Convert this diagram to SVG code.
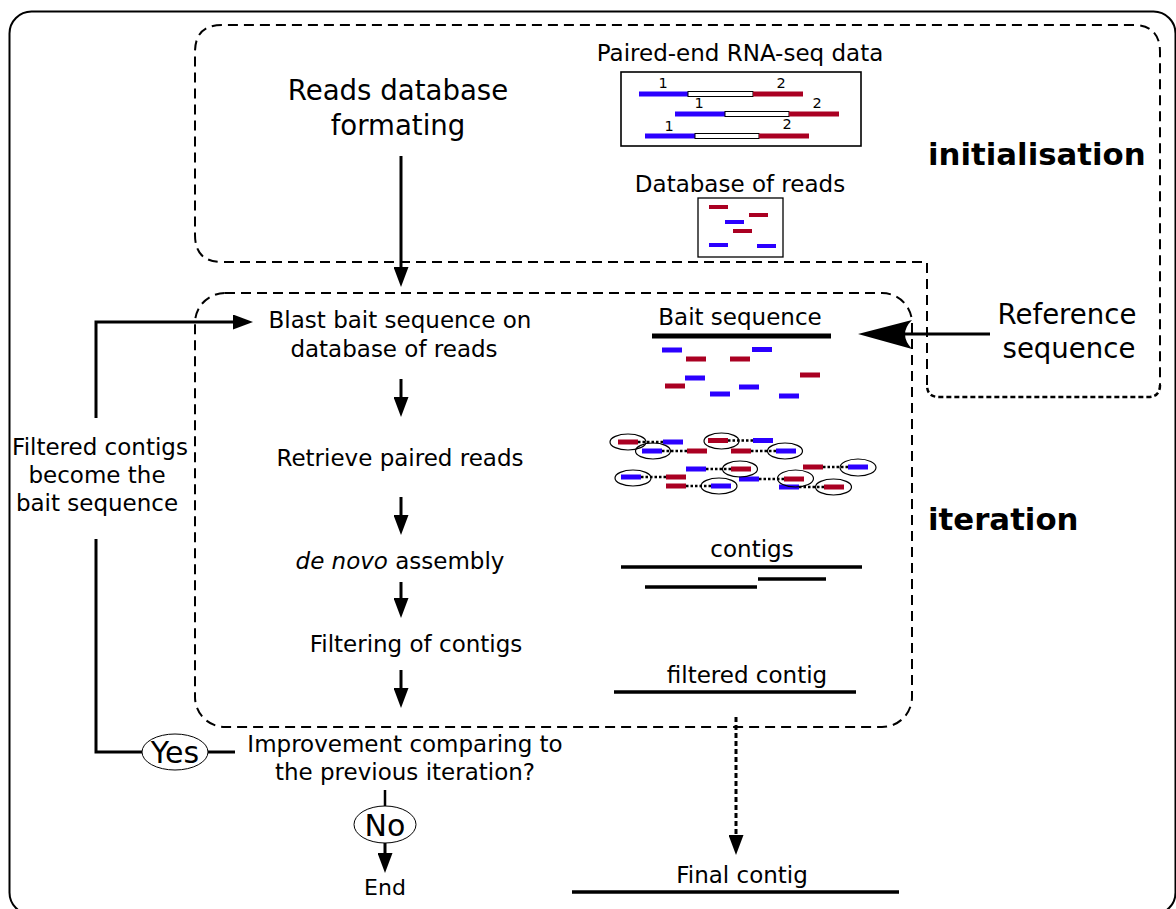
<svg xmlns="http://www.w3.org/2000/svg" width="1176" height="909" viewBox="0 0 1176 909">
<style>
text{font-family:"DejaVu Sans","Liberation Sans",sans-serif;fill:#000}
.t23{font-size:23px}
.t27{font-size:27.6px}
.b30{font-size:30.8px;font-weight:bold}
.dash{fill:none;stroke:#000;stroke-width:2;stroke-dasharray:10 6}
.dot{fill:none;stroke:#000;stroke-width:2.5;stroke-dasharray:5 3}
.ln{fill:none;stroke:#000;stroke-width:3}
.ctg{stroke:#000;stroke-width:3.5}
.bl{fill:#2b00ff}
.rd{fill:#aa0022}
.el{fill:none;stroke:#000;stroke-width:1.2}
.pd{stroke:#000;stroke-width:2.5;stroke-dasharray:2.5 2}
</style>
<defs>
<marker id="ah" markerUnits="userSpaceOnUse" viewBox="0 0 20 15" markerWidth="20" markerHeight="15" refX="8" refY="7.5" orient="auto">
<path d="M0,0 L20,7.5 L0,15 z" fill="#000"/>
</marker>
<rect id="r" width="20" height="5"/>
</defs>
<rect x="9.5" y="11.5" width="1166" height="903" rx="22" fill="none" stroke="#000" stroke-width="2"/>
<g id="initialisation">
<path class="dash" d="M927,385 L927,262 L222,262 Q195,262 195,235 L195,52 Q195,25 222,25 L1133,25 Q1160,25 1160,52 L1160,385"/>
<path class="dot" d="M1160,385 Q1160,397 1148,397 L939,397 Q927,397 927,385"/>
<text class="b30" x="928" y="165">initialisation</text>
</g>
<g id="iteration">
<rect class="dash" x="195" y="293" width="717" height="434" rx="30"/>
<text class="b30" x="928" y="530">iteration</text>
</g>
<g id="reads-db-formatting">
<text class="t27" x="398" y="100" text-anchor="middle">Reads database</text>
<text class="t27" x="398" y="135" text-anchor="middle">formating</text>
</g>
<g id="paired-end-data">
<text class="t23" x="740" y="61" text-anchor="middle">Paired-end RNA-seq data</text>
<rect x="621" y="72" width="240" height="74" fill="none" stroke="#000" stroke-width="1.6"/>
<g font-size="14.5">
<rect class="bl" x="639" y="91.5" width="49" height="5"/><rect x="688" y="91.5" width="65" height="5" fill="#fff" stroke="#000" stroke-width="1"/><rect class="rd" x="753" y="91.5" width="50" height="5"/>
<text x="663" y="88" text-anchor="middle">1</text><text x="781" y="88" text-anchor="middle">2</text>
<rect class="bl" x="675" y="111.5" width="50" height="5"/><rect x="725" y="111.5" width="64" height="5" fill="#fff" stroke="#000" stroke-width="1"/><rect class="rd" x="789" y="111.5" width="50" height="5"/>
<text x="699" y="108" text-anchor="middle">1</text><text x="817" y="108" text-anchor="middle">2</text>
<rect class="bl" x="645" y="133.5" width="50" height="5"/><rect x="695" y="133.5" width="64" height="5" fill="#fff" stroke="#000" stroke-width="1"/><rect class="rd" x="759" y="133.5" width="50" height="5"/>
<text x="669" y="131" text-anchor="middle">1</text><text x="787" y="129" text-anchor="middle">2</text>
</g>
</g>
<g id="database-of-reads">
<text class="t23" x="740" y="192" text-anchor="middle">Database of reads</text>
<rect x="698" y="198" width="85" height="59" fill="none" stroke="#000" stroke-width="1.3"/>
<rect class="rd" x="709" y="205" width="19" height="4"/>
<rect class="rd" x="749" y="213" width="19" height="4"/>
<rect class="bl" x="725" y="220" width="19" height="4"/>
<rect class="rd" x="733" y="229" width="19" height="4"/>
<rect class="bl" x="709" y="243" width="19" height="4"/>
<rect class="bl" x="757" y="244" width="19" height="4"/>
</g>
<g id="reference-sequence">
<text class="t27" x="1067" y="324" text-anchor="middle">Reference</text>
<text class="t27" x="1069" y="358" text-anchor="middle">sequence</text>
</g>
<g id="blast">
<text class="t23" x="400" y="328" text-anchor="middle">Blast bait sequence on</text>
<text class="t23" x="394" y="357" text-anchor="middle">database of reads</text>
</g>
<g id="bait-sequence">
<text class="t23" x="740" y="325" text-anchor="middle">Bait sequence</text>
<line x1="652" y1="336" x2="831" y2="336" stroke="#000" stroke-width="5"/>
<use href="#r" class="bl" x="662" y="347.5"/>
<use href="#r" class="rd" x="686" y="356.5"/>
<use href="#r" class="rd" x="730" y="356.5"/>
<use href="#r" class="bl" x="752" y="347"/>
<use href="#r" class="bl" x="685" y="375.5"/>
<use href="#r" class="rd" x="800" y="372.5"/>
<use href="#r" class="rd" x="665" y="383.5"/>
<use href="#r" class="bl" x="739" y="384.5"/>
<use href="#r" class="bl" x="710" y="391.5"/>
<use href="#r" class="bl" x="779" y="393.5"/>
</g>
<g id="retrieve">
<text class="t23" x="400" y="466" text-anchor="middle">Retrieve paired reads</text>
</g>
<g id="paired-reads">
<line class="pd" x1="638" y1="442" x2="663" y2="442"/>
<line class="pd" x1="662" y1="451" x2="687" y2="451"/>
<line class="pd" x1="728" y1="440.5" x2="753" y2="440.5"/>
<line class="pd" x1="751" y1="451" x2="776" y2="451"/>
<line class="pd" x1="706" y1="469" x2="731" y2="469"/>
<line class="pd" x1="641" y1="477" x2="666" y2="477"/>
<line class="pd" x1="686" y1="486" x2="711" y2="486"/>
<line class="pd" x1="823" y1="467" x2="848" y2="467"/>
<line class="pd" x1="759" y1="479" x2="784" y2="479"/>
<line class="pd" x1="799" y1="487" x2="824" y2="487"/>
<use href="#r" class="rd" x="618" y="439.5"/><use href="#r" class="bl" x="663" y="439.5"/>
<use href="#r" class="bl" x="642" y="448.5"/><use href="#r" class="rd" x="687" y="448.5"/>
<use href="#r" class="rd" x="708" y="438"/><use href="#r" class="bl" x="753" y="438"/>
<use href="#r" class="rd" x="731" y="448.5"/><use href="#r" class="bl" x="776" y="448.5"/>
<use href="#r" class="bl" x="686" y="466.5"/><use href="#r" class="rd" x="731" y="466.5"/>
<use href="#r" class="bl" x="621" y="474.5"/><use href="#r" class="rd" x="666" y="474.5"/>
<use href="#r" class="rd" x="666" y="483.5"/><use href="#r" class="bl" x="711" y="483.5"/>
<use href="#r" class="rd" x="803" y="464.5"/><use href="#r" class="bl" x="848" y="464.5"/>
<use href="#r" class="bl" x="739" y="476.5"/><use href="#r" class="rd" x="784" y="476.5"/>
<use href="#r" class="bl" x="779" y="484.5"/><use href="#r" class="rd" x="824" y="484.5"/>
<ellipse class="el" cx="628" cy="442" rx="18" ry="8"/>
<ellipse class="el" cx="653" cy="451" rx="17.5" ry="8"/>
<ellipse class="el" cx="721.5" cy="441" rx="17.5" ry="8"/>
<ellipse class="el" cx="785" cy="451" rx="17.5" ry="8"/>
<ellipse class="el" cx="740" cy="469" rx="17.5" ry="8"/>
<ellipse class="el" cx="633" cy="478" rx="18" ry="8"/>
<ellipse class="el" cx="719" cy="486" rx="18" ry="8"/>
<ellipse class="el" cx="858" cy="467.5" rx="18" ry="8.5"/>
<ellipse class="el" cx="795.5" cy="478.5" rx="18" ry="8.5"/>
<ellipse class="el" cx="833.5" cy="487" rx="18" ry="8"/>
</g>
<g id="de-novo">
<text class="t23" x="400" y="569" text-anchor="middle"><tspan font-style="italic">de novo</tspan> assembly</text>
</g>
<g id="contigs">
<text class="t23" x="752" y="557" text-anchor="middle">contigs</text>
<line class="ctg" x1="621" y1="567" x2="862" y2="567"/>
<line class="ctg" x1="758" y1="579" x2="826" y2="579"/>
<line class="ctg" x1="645" y1="587" x2="757" y2="587"/>
</g>
<g id="filtering">
<text class="t23" x="416" y="652" text-anchor="middle">Filtering of contigs</text>
</g>
<g id="filtered-contig">
<text class="t23" x="747" y="683" text-anchor="middle">filtered contig</text>
<line class="ctg" x1="614" y1="692" x2="856" y2="692"/>
</g>
<g id="improvement">
<text class="t23" x="405" y="752" text-anchor="middle">Improvement comparing to</text>
<text class="t23" x="405" y="780" text-anchor="middle">the previous iteration?</text>
</g>
<g id="loop-label">
<text class="t23" x="100" y="455" text-anchor="middle">Filtered contigs</text>
<text class="t23" x="97" y="483" text-anchor="middle">become the</text>
<text class="t23" x="97" y="511" text-anchor="middle">bait sequence</text>
</g>
<g id="yes">
<ellipse cx="175" cy="752" rx="33" ry="18" fill="#fff" stroke="#000" stroke-width="1"/>
<text x="175" y="763" font-size="30" text-anchor="middle">Yes</text>
</g>
<g id="no">
<ellipse cx="385" cy="824.5" rx="31" ry="18.5" fill="#fff" stroke="#000" stroke-width="1"/>
<text x="385" y="836" font-size="30" text-anchor="middle">No</text>
</g>
<g id="end">
<text x="385" y="895" font-size="22" text-anchor="middle">End</text>
</g>
<g id="final-contig">
<text class="t23" x="742" y="883" text-anchor="middle">Final contig</text>
<line class="ctg" x1="572" y1="892" x2="899" y2="892"/>
</g>
<g id="connectors">
<line class="ln" x1="401" y1="156" x2="401" y2="275" marker-end="url(#ah)"/>
<line class="ln" x1="401" y1="379" x2="401" y2="405" marker-end="url(#ah)"/>
<line class="ln" x1="401" y1="497" x2="401" y2="523" marker-end="url(#ah)"/>
<line class="ln" x1="401" y1="582" x2="401" y2="606" marker-end="url(#ah)"/>
<line class="ln" x1="401" y1="670" x2="401" y2="696" marker-end="url(#ah)"/>
<polyline class="ln" points="96,418 96,322 241,322" marker-end="url(#ah)"/>
<polyline class="ln" points="96,539 96,752 142,752"/>
<line class="ln" x1="208" y1="752" x2="235" y2="752"/>
<line x1="385" y1="790" x2="385" y2="806" stroke="#000" stroke-width="2.5"/>
<line class="ln" x1="385" y1="843" x2="385" y2="861" marker-end="url(#ah)"/>
<line x1="736" y1="717" x2="736" y2="843" stroke="#000" stroke-width="3" stroke-dasharray="5 3" marker-end="url(#ah)"/>
<line x1="990" y1="334" x2="900" y2="334" stroke="#000" stroke-width="3"/>
<path d="M858,334 L912,320 Q898,334 912,349 Z" fill="#000"/>
</g>
</svg>
